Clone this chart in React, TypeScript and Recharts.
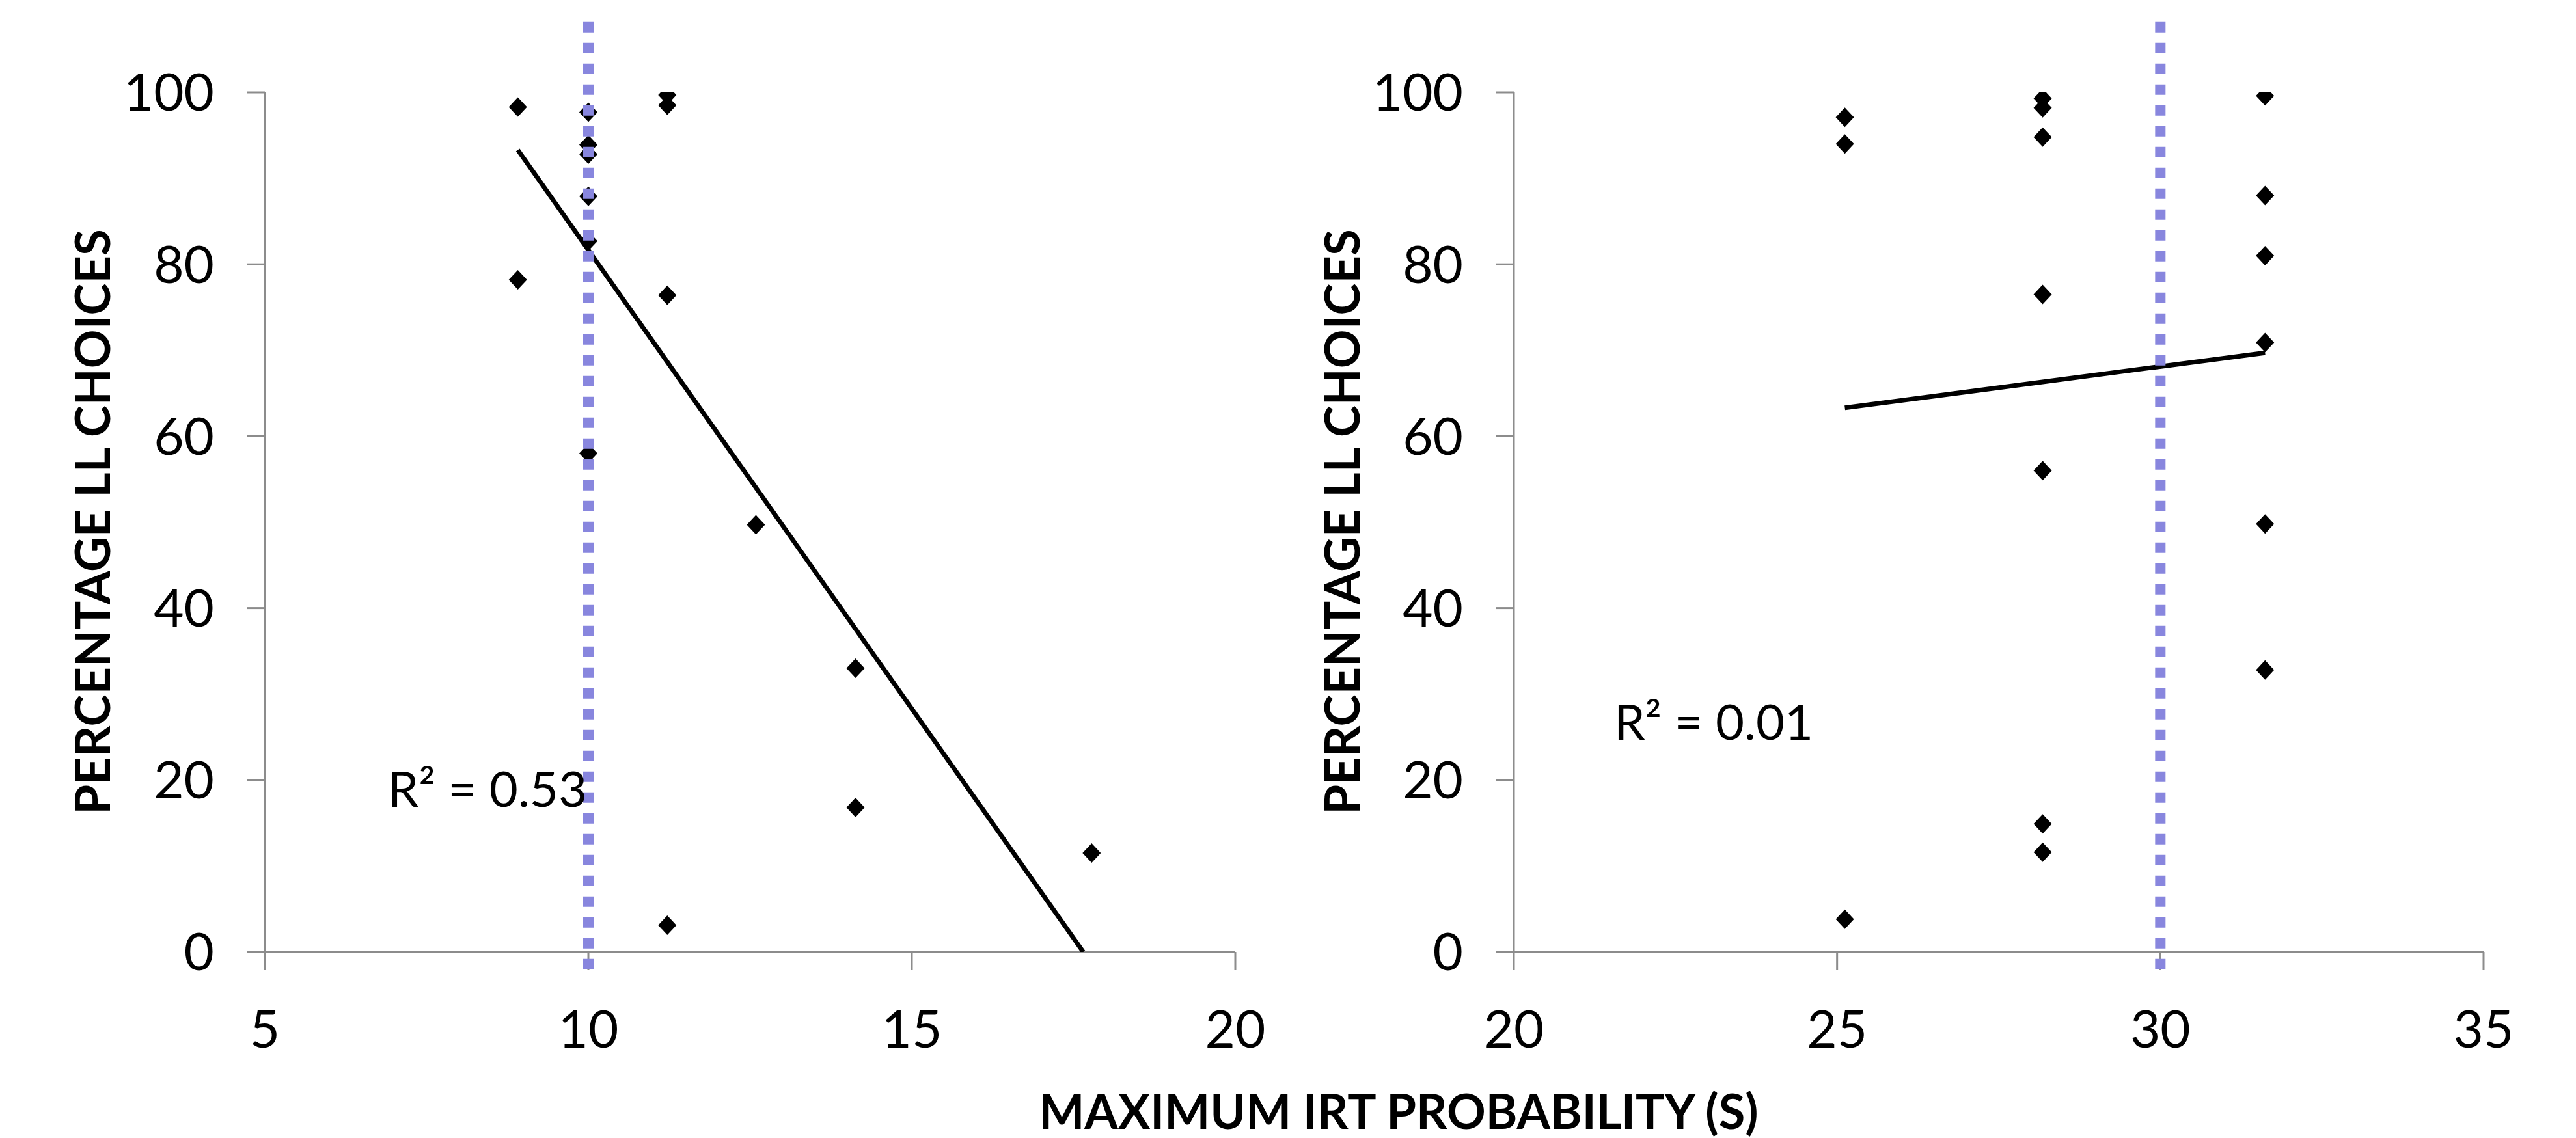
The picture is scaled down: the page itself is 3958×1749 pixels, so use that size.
import { ScatterChart, Scatter, XAxis, YAxis, ReferenceLine, ReferenceDot } from "recharts"

// tick labels
const leftXTicks = [5, 10, 15, 20]
const rightXTicks = [20, 25, 30, 35]
const yTicks = [0, 20, 40, 60, 80, 100]

// observed points (x = max IRT probability, y = % LL choices)
const leftPoints = [
  { x: 8.91, y: 98.3 }, { x: 8.91, y: 78.2 },
  { x: 10.0, y: 97.7 }, { x: 10.0, y: 93.9 }, { x: 10.0, y: 92.8 },
  { x: 10.0, y: 87.9 }, { x: 10.0, y: 82.7 }, { x: 10.0, y: 58.0 },
  { x: 11.22, y: 99.7 }, { x: 11.22, y: 98.5 }, { x: 11.22, y: 76.4 }, { x: 11.22, y: 3.1 },
  { x: 12.59, y: 49.7 },
  { x: 14.13, y: 33.0 }, { x: 14.13, y: 16.8 },
  { x: 17.78, y: 11.5 },
]

const rightPoints = [
  { x: 25.12, y: 97.1 }, { x: 25.12, y: 94.0 }, { x: 25.12, y: 3.8 },
  { x: 28.18, y: 99.3 }, { x: 28.18, y: 98.2 }, { x: 28.18, y: 94.8 },
  { x: 28.18, y: 76.5 }, { x: 28.18, y: 56.0 }, { x: 28.18, y: 14.9 }, { x: 28.18, y: 11.6 },
  { x: 31.62, y: 99.6 }, { x: 31.62, y: 88.0 }, { x: 31.62, y: 81.0 },
  { x: 31.62, y: 70.9 }, { x: 31.62, y: 49.8 }, { x: 31.62, y: 32.8 },
]

// linear trend lines (end points)
const leftTrend = [{ x: 8.91, y: 93.3 }, { x: 17.65, y: 0 }]
const rightTrend = [{ x: 25.12, y: 63.3 }, { x: 31.62, y: 69.7 }]

const leftThreshold = 10
const rightThreshold = 30

const leftR2 = "R\u00B2 = 0.53"
const rightR2 = "R\u00B2 = 0.01"
const yTitle = "PERCENTAGE LL CHOICES"
const xTitle = "MAXIMUM IRT PROBABILITY (S)"

const FONT = "Lato, 'Open Sans', sans-serif"
const AXIS = "#8c8c8c"
const DOTTED = "#8886DE"

const Diamond = (props: any) => {
  const { cx, cy } = props
  if (cx == null || cy == null) return <g />
  return (
    <polygon
      points={`${cx},${cy - 15} ${cx + 14},${cy} ${cx},${cy + 15} ${cx - 14},${cy}`}
      fill="#000"
    />
  )
}

interface PanelProps {
  left: number
  width: number
  axisWidth: number
  marginRight: number
  xTicks: number[]
  points: { x: number; y: number }[]
  trend: { x: number; y: number }[]
  threshold: number
  r2: string
  r2Pos: { x: number; y: number }
}

function Panel({ left, width, axisWidth, marginRight, xTicks, points, trend, threshold, r2, r2Pos }: PanelProps) {
  const tick = { fill: "#000", fontSize: 80, fontFamily: FONT }
  return (
    <div style={{ position: "absolute", left, top: 0 }}>
      <ScatterChart width={width} height={1749} margin={{ top: 142, right: marginRight, bottom: 0, left: 0 }}>
        <XAxis
          type="number"
          dataKey="x"
          domain={[xTicks[0], xTicks[xTicks.length - 1]]}
          ticks={xTicks}
          allowDataOverflow
          height={286}
          tickSize={28}
          tickMargin={62}
          axisLine={{ stroke: AXIS, strokeWidth: 3 }}
          tickLine={{ stroke: AXIS, strokeWidth: 3 }}
          tick={tick}
        />
        <YAxis
          type="number"
          dataKey="y"
          domain={[0, 100]}
          ticks={yTicks}
          allowDataOverflow
          width={axisWidth}
          tickSize={28}
          tickMargin={50}
          axisLine={{ stroke: AXIS, strokeWidth: 3 }}
          tickLine={{ stroke: AXIS, strokeWidth: 3 }}
          tick={tick}
        />
        <Scatter
          data={trend}
          line={{ stroke: "#000", strokeWidth: 7 }}
          shape={() => <g />}
          isAnimationActive={false}
        />
        <Scatter data={points} shape={Diamond} isAnimationActive={false} />
        <ReferenceLine
          segment={[{ x: threshold, y: 108.2 }, { x: threshold, y: -2.35 }]}
          stroke={DOTTED}
          strokeWidth={16}
          strokeDasharray="16 16"
          ifOverflow="visible"
          zIndex={1000}
        />
        <ReferenceDot
          x={r2Pos.x}
          y={r2Pos.y}
          r={0}
          fill="none"
          stroke="none"
          label={{ value: r2, position: "right", offset: 0, fill: "#000", fontSize: 76, fontFamily: FONT }}
        />
      </ScatterChart>
    </div>
  )
}

export default function App() {
  return (
    <div style={{ position: "absolute", left: 0, top: 0, width: 3958, height: 1749, background: "#fff", fontFamily: FONT }}>
      <Panel
        left={0}
        width={1980}
        axisWidth={407}
        marginRight={82}
        xTicks={leftXTicks}
        points={leftPoints}
        trend={leftTrend}
        threshold={leftThreshold}
        r2={leftR2}
        r2Pos={{ x: 6.9, y: 18.9 }}
      />
      <Panel
        left={1980}
        width={1978}
        axisWidth={346}
        marginRight={142}
        xTicks={rightXTicks}
        points={rightPoints}
        trend={rightTrend}
        threshold={rightThreshold}
        r2={rightR2}
        r2Pos={{ x: 21.55, y: 26.7 }}
      />
      <svg width={3958} height={1749} style={{ position: "absolute", left: 0, top: 0, pointerEvents: "none" }}>
        <text x={140} y={802} transform="rotate(-90 140 802)" textAnchor="middle" dominantBaseline="central"
          fontFamily={FONT} fontWeight="bold" fontSize={74} fill="#000">{yTitle}</text>
        <text x={2060} y={802} transform="rotate(-90 2060 802)" textAnchor="middle" dominantBaseline="central"
          fontFamily={FONT} fontWeight="bold" fontSize={74} fill="#000">{yTitle}</text>
        <text x={2149} y={1706} textAnchor="middle" dominantBaseline="central"
          fontFamily={FONT} fontWeight="bold" fontSize={74} fill="#000">{xTitle}</text>
      </svg>
    </div>
  )
}
